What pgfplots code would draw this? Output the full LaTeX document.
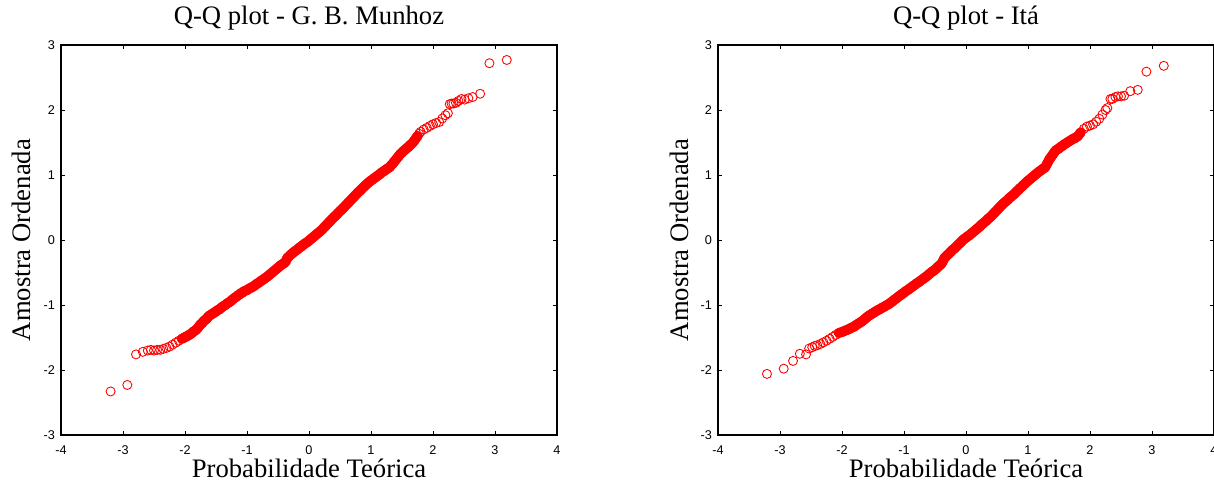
\documentclass[border=0pt]{standalone}
\usepackage{fontspec}
\setmainfont{Liberation Serif}
\setsansfont{Liberation Sans}
\usepackage{pgfplots}
\usepackage{pgfplotstable}
\pgfplotsset{compat=1.18}

% sorted samples vs. theoretical normal quantiles
\pgfplotstableread{
x y
-3.20 -2.33
-2.93 -2.23
-2.79 -1.76
-2.68 -1.72
-2.60 -1.70
-2.55 -1.69
-2.50 -1.70
-2.45 -1.69
-2.40 -1.69
-2.35 -1.675
-2.30 -1.66
-2.25 -1.64
-2.20 -1.61
-2.15 -1.58
-2.10 -1.55
-2.05 -1.52
-2.00 -1.495
-1.975 -1.483
-1.95 -1.47
-1.925 -1.456
-1.90 -1.44
-1.875 -1.42
-1.85 -1.40
-1.825 -1.385
-1.80 -1.36
-1.775 -1.33
-1.75 -1.30
-1.725 -1.28
-1.70 -1.25
-1.675 -1.23
-1.65 -1.21
-1.625 -1.18
-1.60 -1.16
-1.575 -1.145
-1.55 -1.13
-1.525 -1.115
-1.50 -1.10
-1.475 -1.08
-1.45 -1.07
-1.425 -1.05
-1.40 -1.03
-1.375 -1.015
-1.35 -1.00
-1.325 -0.98
-1.30 -0.965
-1.275 -0.95
-1.25 -0.93
-1.225 -0.91
-1.20 -0.89
-1.175 -0.875
-1.15 -0.855
-1.125 -0.84
-1.10 -0.82
-1.075 -0.81
-1.05 -0.79
-1.025 -0.78
-1.00 -0.77
-0.975 -0.755
-0.95 -0.74
-0.925 -0.73
-0.90 -0.715
-0.875 -0.70
-0.85 -0.68
-0.825 -0.665
-0.80 -0.65
-0.775 -0.63
-0.75 -0.615
-0.725 -0.60
-0.70 -0.58
-0.675 -0.565
-0.65 -0.545
-0.625 -0.525
-0.60 -0.505
-0.575 -0.485
-0.55 -0.465
-0.525 -0.445
-0.50 -0.425
-0.475 -0.405
-0.45 -0.385
-0.425 -0.37
-0.40 -0.355
-0.375 -0.33
-0.35 -0.275
-0.325 -0.255
-0.30 -0.23
-0.275 -0.21
-0.25 -0.19
-0.225 -0.17
-0.20 -0.155
-0.175 -0.135
-0.15 -0.115
-0.125 -0.10
-0.10 -0.08
-0.075 -0.06
-0.05 -0.045
-0.025 -0.03
0.00 -0.01
0.025 0.01
0.05 0.03
0.075 0.05
0.10 0.07
0.125 0.09
0.15 0.11
0.175 0.13
0.20 0.15
0.225 0.175
0.25 0.20
0.275 0.225
0.30 0.25
0.325 0.275
0.35 0.30
0.375 0.325
0.40 0.35
0.425 0.37
0.45 0.395
0.475 0.42
0.50 0.445
0.525 0.465
0.55 0.49
0.575 0.515
0.60 0.54
0.625 0.565
0.65 0.59
0.675 0.615
0.70 0.64
0.725 0.665
0.75 0.69
0.775 0.715
0.80 0.74
0.825 0.76
0.85 0.785
0.875 0.81
0.90 0.83
0.925 0.855
0.95 0.875
0.975 0.895
1.00 0.915
1.025 0.93
1.05 0.95
1.075 0.965
1.10 0.985
1.125 1.00
1.15 1.02
1.175 1.04
1.20 1.055
1.225 1.07
1.25 1.09
1.275 1.105
1.30 1.12
1.325 1.15
1.35 1.175
1.375 1.205
1.40 1.235
1.425 1.265
1.45 1.295
1.475 1.325
1.50 1.345
1.525 1.37
1.55 1.39
1.575 1.41
1.60 1.43
1.625 1.455
1.65 1.475
1.675 1.50
1.70 1.53
1.725 1.565
1.75 1.60
1.775 1.635
1.80 1.665
1.85 1.70
1.90 1.725
1.95 1.755
2.00 1.78
2.05 1.80
2.10 1.815
2.15 1.87
2.20 1.92
2.24 1.95
2.27 2.09
2.30 2.10
2.33 2.10
2.37 2.11
2.41 2.14
2.46 2.17
2.51 2.16
2.57 2.18
2.64 2.20
2.76 2.25
2.91 2.72
3.19 2.77
}\munhoz

\pgfplotstableread{
x y
-3.21 -2.06
-2.94 -1.98
-2.79 -1.86
-2.68 -1.75
-2.58 -1.76
-2.53 -1.67
-2.48 -1.65
-2.44 -1.63
-2.40 -1.62
-2.35 -1.60
-2.30 -1.575
-2.25 -1.55
-2.20 -1.52
-2.15 -1.49
-2.10 -1.46
-2.05 -1.43
-2.00 -1.415
-1.975 -1.405
-1.95 -1.395
-1.925 -1.385
-1.90 -1.375
-1.875 -1.365
-1.85 -1.35
-1.825 -1.34
-1.80 -1.33
-1.775 -1.31
-1.75 -1.295
-1.725 -1.28
-1.70 -1.265
-1.675 -1.25
-1.65 -1.23
-1.625 -1.21
-1.60 -1.19
-1.575 -1.17
-1.55 -1.155
-1.525 -1.14
-1.50 -1.125
-1.475 -1.11
-1.45 -1.095
-1.425 -1.08
-1.40 -1.07
-1.375 -1.055
-1.35 -1.04
-1.325 -1.03
-1.30 -1.015
-1.275 -1.00
-1.25 -0.99
-1.225 -0.97
-1.20 -0.955
-1.175 -0.935
-1.15 -0.915
-1.125 -0.90
-1.10 -0.88
-1.075 -0.86
-1.05 -0.845
-1.025 -0.825
-1.00 -0.81
-0.975 -0.79
-0.95 -0.775
-0.925 -0.76
-0.90 -0.74
-0.875 -0.725
-0.85 -0.705
-0.825 -0.69
-0.80 -0.67
-0.775 -0.655
-0.75 -0.64
-0.725 -0.62
-0.70 -0.605
-0.675 -0.585
-0.65 -0.57
-0.625 -0.55
-0.60 -0.53
-0.575 -0.51
-0.55 -0.49
-0.525 -0.475
-0.50 -0.455
-0.475 -0.435
-0.45 -0.41
-0.425 -0.39
-0.40 -0.37
-0.375 -0.33
-0.35 -0.28
-0.325 -0.255
-0.30 -0.23
-0.275 -0.21
-0.25 -0.185
-0.225 -0.16
-0.20 -0.14
-0.175 -0.12
-0.15 -0.095
-0.125 -0.07
-0.10 -0.05
-0.075 -0.025
-0.05 0.00
-0.025 0.02
0.00 0.035
0.025 0.055
0.05 0.07
0.075 0.09
0.10 0.11
0.125 0.13
0.15 0.15
0.175 0.17
0.20 0.19
0.225 0.21
0.25 0.235
0.275 0.255
0.30 0.275
0.325 0.295
0.35 0.32
0.375 0.34
0.40 0.36
0.425 0.385
0.45 0.41
0.475 0.435
0.50 0.46
0.525 0.485
0.55 0.51
0.575 0.535
0.60 0.56
0.625 0.58
0.65 0.60
0.675 0.62
0.70 0.645
0.725 0.665
0.75 0.685
0.775 0.705
0.80 0.73
0.825 0.755
0.85 0.775
0.875 0.80
0.90 0.82
0.925 0.845
0.95 0.865
0.975 0.89
1.00 0.91
1.025 0.93
1.05 0.95
1.075 0.97
1.10 0.99
1.125 1.01
1.15 1.03
1.175 1.05
1.20 1.065
1.225 1.085
1.25 1.10
1.275 1.115
1.30 1.16
1.325 1.205
1.35 1.25
1.375 1.28
1.40 1.315
1.425 1.35
1.45 1.38
1.475 1.395
1.50 1.41
1.525 1.43
1.55 1.445
1.575 1.465
1.60 1.48
1.625 1.495
1.65 1.51
1.675 1.525
1.70 1.54
1.725 1.555
1.75 1.565
1.775 1.58
1.80 1.595
1.85 1.655
1.90 1.71
1.95 1.745
2.00 1.76
2.05 1.78
2.10 1.82
2.15 1.865
2.20 1.93
2.25 2.00
2.28 2.03
2.33 2.17
2.36 2.17
2.41 2.20
2.45 2.21
2.50 2.21
2.55 2.22
2.65 2.29
2.77 2.31
2.91 2.59
3.19 2.68
}\ita

% MATLAB-like qqplot frame
\pgfplotsset{qq/.style={
  scale only axis, width=372pt, height=292.5pt,
  xmin=-4, xmax=4, ymin=-3, ymax=3,
  xtick={-4,-3,-2,-1,0,1,2,3,4},
  xticklabels={-4,-3,-2,-1,0,1,2,3,4},
  ytick={-3,-2,-1,0,1,2,3},
  yticklabels={-3,-2,-1,0,1,2,3},
  tick align=inside, major tick length=2.7pt,
  tick style={black, line width=0.6pt},
  axis line style={black, line width=1.3pt},
  ticklabel style={font=\fontsize{9.5}{11}\sffamily},
  xticklabel style={yshift=-4.3pt},
  yticklabel style={xshift=-1.1pt},
  title style={font=\fontsize{20}{24}\selectfont, at={([yshift=9.3pt]axis description cs:0.5,1)}, anchor=base},
  xlabel style={font=\fontsize{20}{24}\selectfont, at={([yshift=-31.5pt]axis description cs:0.5,0)}, anchor=base},
  ylabel style={font=\fontsize{20}{24}\selectfont, at={([xshift=-22.5pt]axis description cs:0,0.5)}, anchor=base},
  xlabel={Probabilidade Teórica},
  ylabel={Amostra Ordenada},
}}
\pgfplotsset{
  qqmark/.style={only marks, mark=o, color=red, mark size=3.4pt, mark options={line width=0.65pt}},
  qqcore/.style={red, line width=7.5pt, line cap=round, line join=round, no marks, unbounded coords=discard},
}

\begin{document}
\begin{tikzpicture}
\begin{axis}[qq, title={Q-Q plot - G. B. Munhoz}]
\addplot[qqcore, restrict x to domain=-2.05:1.75] table {\munhoz};
\addplot[qqmark] table {\munhoz};
\end{axis}
\begin{axis}[qq, at={(492.75pt,0pt)}, title={Q-Q plot - Itá}]
\addplot[qqcore, restrict x to domain=-2.05:1.85] table {\ita};
\addplot[qqmark] table {\ita};
\end{axis}
\pgfresetboundingbox
\path (-45.75pt,-35.25pt) rectangle (864.75pt,326.25pt);
\end{tikzpicture}
\end{document}
